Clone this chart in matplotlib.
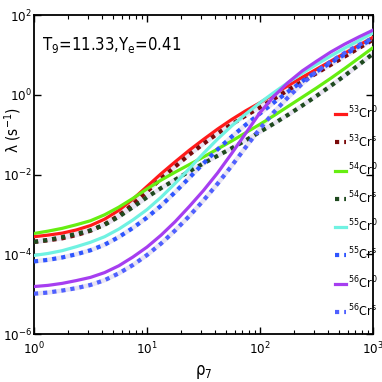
import numpy as np
import matplotlib
matplotlib.use("Agg")
import matplotlib.pyplot as plt
import matplotlib.font_manager as fm
from matplotlib.ticker import LogLocator, NullFormatter, FixedLocator

# pick a condensed face if one is installed (the reference uses a narrow font)
cond_family = None
for pref in ['Liberation Sans Narrow', 'DejaVu Sans', 'Roboto', 'Open Sans', 'Noto Sans', 'Lato']:
    for f in fm.fontManager.ttflist:
        st = f.stretch
        is_cond = (isinstance(st, str) and 'condensed' in st) or (not isinstance(st, str) and st < 500)
        if f.name == pref and is_cond and f.style == 'normal' and f.weight in (400, 'normal', 'regular', 'book'):
            cond_family = pref
            break
    if cond_family:
        break

if cond_family:
    plt.rcParams['font.family'] = [cond_family, 'DejaVu Sans']
    plt.rcParams['font.stretch'] = 'condensed'
    plt.rcParams['mathtext.fontset'] = 'custom'
    plt.rcParams['mathtext.rm'] = cond_family + ':stretch=condensed'
    plt.rcParams['mathtext.it'] = cond_family + ':stretch=condensed'
    tick_fs, ylab_fs, ylab_y, title_fs, leg_fs, leg_sp = 9.5, 11, 0.64, 12, 9, 0.93
else:
    plt.rcParams['font.family'] = ['Liberation Sans', 'DejaVu Sans']
    plt.rcParams['mathtext.fontset'] = 'custom'
    plt.rcParams['mathtext.rm'] = 'Liberation Sans'
    plt.rcParams['mathtext.it'] = 'Liberation Sans'
    tick_fs, ylab_fs, ylab_y, title_fs, leg_fs, leg_sp = 9, 11, 0.64, 11.5, 9, 1.05
plt.rcParams['mathtext.default'] = 'regular'

log_rho = [0.0, 0.125, 0.25, 0.375, 0.5, 0.625, 0.75, 0.875, 1.0, 1.125, 1.25, 1.375, 1.5,
           1.625, 1.75, 1.875, 2.0, 2.125, 2.25, 2.375, 2.5, 2.625, 2.75, 2.875, 3.0]
cr53_0 = [-3.56, -3.52, -3.47, -3.39, -3.28, -3.12, -2.90, -2.62, -2.30, -1.98, -1.68, -1.39, -1.12,
          -0.86, -0.62, -0.40, -0.20, 0.02, 0.23, 0.44, 0.64, 0.84, 1.04, 1.24, 1.44]
cr53_s = [-3.69, -3.65, -3.60, -3.52, -3.41, -3.25, -3.03, -2.75, -2.43, -2.10, -1.80, -1.50, -1.23,
          -0.97, -0.74, -0.52, -0.32, -0.10, 0.12, 0.33, 0.54, 0.75, 0.96, 1.17, 1.38]
cr54_0 = [-3.48, -3.42, -3.35, -3.26, -3.16, -3.01, -2.82, -2.60, -2.36, -2.14, -1.94, -1.75, -1.56,
          -1.36, -1.16, -0.95, -0.74, -0.52, -0.29, -0.06, 0.17, 0.41, 0.66, 0.92, 1.18]
cr54_s = [-3.69, -3.64, -3.57, -3.49, -3.40, -3.26, -3.06, -2.82, -2.57, -2.34, -2.13, -1.92, -1.72,
          -1.53, -1.34, -1.14, -0.93, -0.72, -0.50, -0.27, -0.03, 0.22, 0.48, 0.75, 1.03]
cr55_0 = [-4.03, -3.98, -3.91, -3.81, -3.70, -3.56, -3.37, -3.14, -2.88, -2.57, -2.22, -1.85, -1.47,
          -1.11, -0.78, -0.48, -0.20, 0.06, 0.31, 0.54, 0.76, 0.97, 1.17, 1.36, 1.55]
cr55_s = [-4.18, -4.14, -4.08, -4.00, -3.90, -3.76, -3.57, -3.34, -3.08, -2.78, -2.44, -2.08, -1.72,
          -1.37, -1.05, -0.75, -0.47, -0.19, 0.08, 0.34, 0.58, 0.80, 1.01, 1.21, 1.40]
cr56_0 = [-4.81, -4.78, -4.73, -4.66, -4.58, -4.46, -4.29, -4.07, -3.82, -3.52, -3.18, -2.80, -2.40,
          -1.96, -1.47, -0.96, -0.45, -0.03, 0.31, 0.60, 0.84, 1.07, 1.27, 1.45, 1.62]
cr56_s = [-4.99, -4.96, -4.91, -4.85, -4.77, -4.65, -4.48, -4.27, -4.02, -3.73, -3.40, -3.04, -2.65,
          -2.23, -1.78, -1.31, -0.85, -0.43, -0.06, 0.28, 0.58, 0.83, 1.05, 1.25, 1.42]

labels = [r'$^{53}$Cr$^{0}$', r'$^{53}$Cr$^{s}$', r'$^{54}$Cr$^{0}$', r'$^{54}$Cr$^{s}$',
          r'$^{55}$Cr$^{0}$', r'$^{55}$Cr$^{s}$', r'$^{56}$Cr$^{0}$', r'$^{56}$Cr$^{s}$']
series = [cr53_0, cr53_s, cr54_0, cr54_s, cr55_0, cr55_s, cr56_0, cr56_s]
colors = ['#ff1a1a', '#7a0a0a', '#66ee11', '#1f4a1f', '#70f2e2', '#2f55ff', '#a63ef0', '#4f60ff']
dotted = [False, True, False, True, False, True, False, True]

fig = plt.figure(figsize=(3.82, 3.82), dpi=100)
ax = fig.add_axes([34/382, 1-334/382, (373-34)/382, (334-15)/382])

x = 10 ** np.array(log_rho)
for ys, c, d, lab in zip(series, colors, dotted, labels):
    y = 10 ** np.array(ys)
    if d:
        ax.plot(x, y, color='#e8e4f2', lw=3.2, solid_capstyle='butt', zorder=2)
        ax.plot(x, y, color=c, lw=3.0, linestyle=(0, (1.0, 1.2)), label=lab, zorder=3)
    else:
        ax.plot(x, y, color=c, lw=2.3, label=lab, zorder=3)

ax.set_xscale('log')
ax.set_yscale('log')
ax.set_xlim(1, 1000)
ax.set_ylim(1e-6, 1e2)
ax.yaxis.set_major_locator(FixedLocator([1e-6, 1e-4, 1e-2, 1e0, 1e2]))
ax.yaxis.set_minor_locator(FixedLocator([]))
ax.xaxis.set_minor_locator(LogLocator(base=10, subs=np.arange(2, 10), numticks=20))
ax.xaxis.set_minor_formatter(NullFormatter())
ax.tick_params(which='both', direction='in', top=True, right=True, labelsize=tick_fs)
ax.tick_params(axis='x', pad=5)
ax.tick_params(axis='y', pad=1.5)
ax.tick_params(which='major', length=5, width=1)
ax.tick_params(which='minor', length=3, width=0.8)
for sp in ax.spines.values():
    sp.set_linewidth(1.3)

ax.text(0.025, 0.905, r'T$_9$=11.33,Y$_e$=0.41', transform=ax.transAxes, fontsize=title_fs,
        va='center', ha='left')
ax.set_xlabel(r'ρ$_7$', fontsize=12, labelpad=4)
ax.set_ylabel(r'λ (s$^{-1}$)', fontsize=ylab_fs, labelpad=1)

fig.canvas.draw()
renderer = fig.canvas.get_renderer()
# put the y label just inside the figure's left edge
lab_bb = ax.yaxis.label.get_window_extent(renderer)
w_axes = lab_bb.width / ax.get_window_extent(renderer).width
ax.yaxis.set_label_coords(-(34 - 2) / 339 + w_axes, ylab_y)

leg = ax.legend(loc='upper left', bbox_to_anchor=((335-34)/339, (334-105)/319), frameon=False,
                fontsize=leg_fs, handlelength=0.9, handletextpad=0.1, labelspacing=leg_sp,
                borderaxespad=0, borderpad=0)

fig.savefig('out.png', dpi=100)
